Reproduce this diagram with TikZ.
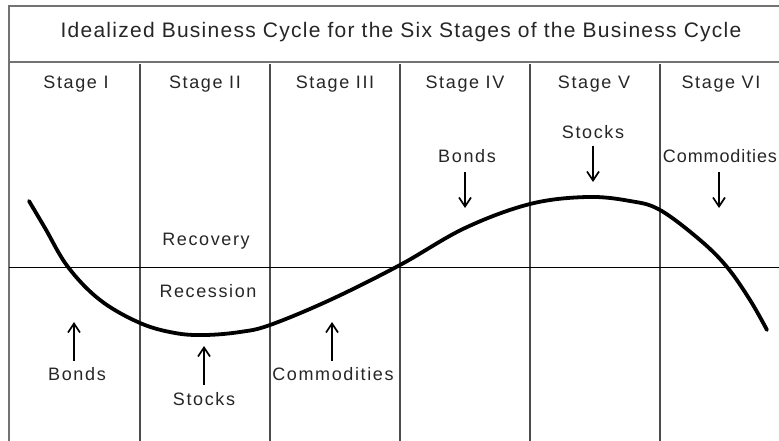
\documentclass[tikz,border=0pt]{standalone}
\usepackage{fontspec}
\setmainfont{Liberation Sans}
\newfontfamily\lblfont[LetterSpace=9]{Liberation Sans}
\newfontfamily\lbltightfont[LetterSpace=5]{Liberation Sans}
\newfontfamily\ttlfont[LetterSpace=6]{Liberation Sans}
\usetikzlibrary{arrows.meta}
\begin{document}
\begin{tikzpicture}[x=1pt,y=-1pt,
  lbl/.style={font=\lblfont\fontsize{18}{18}\selectfont, inner sep=0pt, anchor=base, text=black!85},
  lbltight/.style={font=\lbltightfont\fontsize{18}{18}\selectfont, inner sep=0pt, anchor=base, text=black!85},
  ttl/.style={font=\ttlfont\fontsize{21}{21}\selectfont, inner sep=0pt, anchor=base, text=black!85},
  frame/.style={draw=black!55, line width=2pt},
  col/.style={draw=black!70, line width=1.8pt},
  arr/.style={-{Straight Barb[length=9pt,width=12pt]}, line width=1.7pt},
  curve/.style={line width=3.8pt, line cap=round, line join=round}]
\useasboundingbox (0,0) rectangle (779,441);
\fill[white] (0,0) rectangle (779,441);
% frame
\draw[frame] (9,441) -- (9,6) -- (779,6);
\draw[frame] (9,62) -- (779,62);
\foreach \x in {140,270,400,530,660}{
  \draw[col] (\x,64) -- (\x,441);
}
% axis
\draw[line width=1pt] (9,267) -- (779,267);
% title
\node[ttl] (title) at (401,38) {Idealized Business Cycle for the Six Stages of the Business Cycle};
% stage labels
\node[lbl] (s1) at (76,89) {Stage I};
\node[lbl] (s2) at (205,89) {Stage II};
\node[lbl] (s3) at (335,89) {Stage III};
\node[lbl] (s4) at (465,89) {Stage IV};
\node[lbl] (s5) at (594,89) {Stage V};
\node[lbl] (s6) at (721,89) {Stage VI};
% curve
\draw[curve] plot[smooth, tension=0.6] coordinates {(29,201) (45,228) (68,267) (100,300) (140,323) (175,333) (205,335) (240,332) (270,325) (330,300) (400,265) (465,228) (530,204) (587,197) (630,201) (660,210) (700,240) (727,267) (750,300) (767,330)};
% labels in stage II
\node[lbl] (rec) at (206,245) {Recovery};
\node[lbl] (ress) at (208,297) {Recession};
% lower labels
\node[lbl] (b1) at (77,380) {Bonds};
\node[lbl] (st1) at (204,405) {Stocks};
\node[lbl] (c1) at (333,380) {Commodities};
\coordinate (b1s) at (74,361);
\coordinate (b1e) at (74,322);
\coordinate (st1s) at (204,385);
\coordinate (st1e) at (204,346);
\coordinate (c1s) at (332,361);
\coordinate (c1e) at (332,322);
\draw[arr] (b1s) -- (b1e);
\draw[arr] (st1s) -- (st1e);
\draw[arr] (c1s) -- (c1e);
% upper labels
\node[lbl] (b2) at (467,163) {Bonds};
\node[lbl] (st2) at (593,139) {Stocks};
\node[lbltight] (c2) at (720,163) {Commodities};
\coordinate (b2s) at (465,172);
\coordinate (b2e) at (465,208);
\coordinate (st2s) at (593,146);
\coordinate (st2e) at (593,182);
\coordinate (c2s) at (719,172);
\coordinate (c2e) at (719,208);
\draw[arr] (b2s) -- (b2e);
\draw[arr] (st2s) -- (st2e);
\draw[arr] (c2s) -- (c2e);
\end{tikzpicture}
\end{document}
